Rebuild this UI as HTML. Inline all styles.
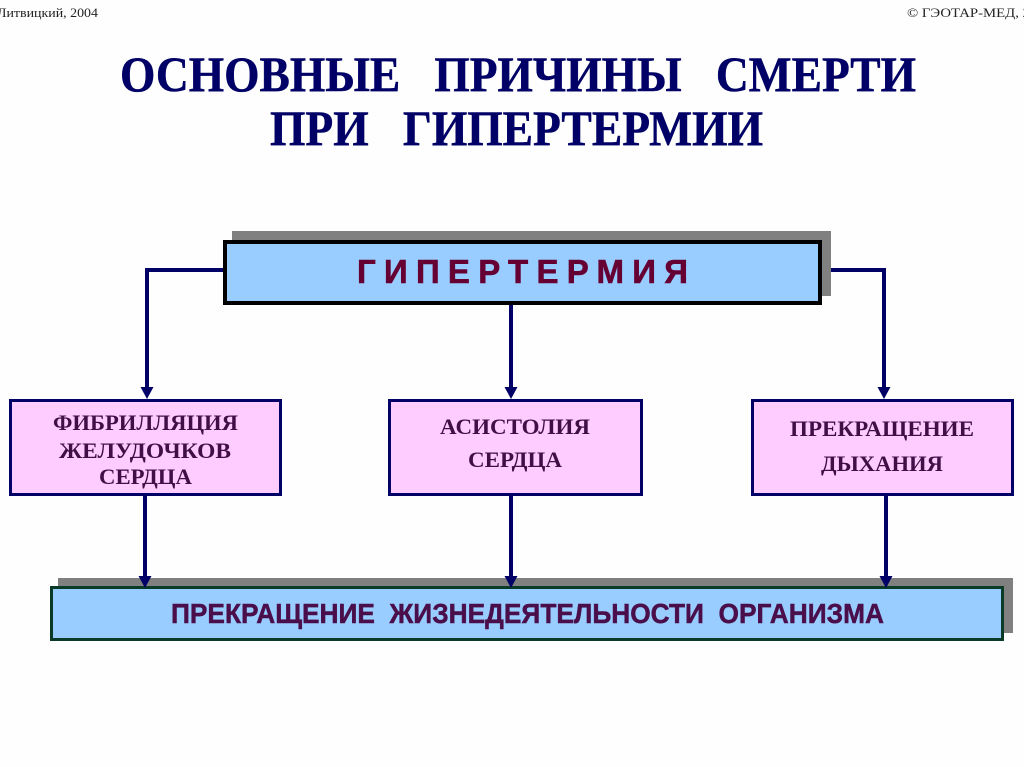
<!DOCTYPE html>
<html lang="ru">
<head>
<meta charset="utf-8">
<title>Основные причины смерти при гипертермии</title>
<style>
html,body{margin:0;padding:0;background:#fff;width:1024px;height:767px;overflow:hidden}
svg{display:block}
.serif{font-family:"Liberation Serif","Noto Serif CJK SC",serif}
.sans{font-family:"Liberation Sans","Noto Sans CJK SC",sans-serif;font-weight:bold}
.title{font-weight:bold;font-size:50px;fill:#000066;stroke:#000066;stroke-width:.5px}
.box{font-weight:bold;font-size:22px;fill:#3f0f46}
.small{font-size:13px;fill:#222}
</style>
</head>
<body>
<svg width="1024" height="767" viewBox="0 0 1024 767" xmlns="http://www.w3.org/2000/svg">
  <rect width="1024" height="767" fill="#fefefe"/>

  <text class="serif small" x="-3" y="17" textLength="101" lengthAdjust="spacingAndGlyphs">Литвицкий, 2004</text>
  <text class="serif small" x="907" y="17" textLength="123" lengthAdjust="spacingAndGlyphs">© ГЭОТАР-МЕД, 2</text>

  <g class="serif title">
    <text x="120" y="91" textLength="796" lengthAdjust="spacingAndGlyphs" xml:space="preserve">ОСНОВНЫЕ   ПРИЧИНЫ   СМЕРТИ</text>
    <text x="270" y="145" textLength="493" lengthAdjust="spacingAndGlyphs" xml:space="preserve">ПРИ   ГИПЕРТЕРМИИ</text>
  </g>

  <!-- connectors -->
  <g fill="none" stroke="#000066" stroke-width="4">
    <path d="M224 270H147V390"/>
    <path d="M511 304V390"/>
    <path d="M830 270H884V390"/>
    <path d="M145 495V578"/>
    <path d="M511 495V578"/>
    <path d="M886 495V578"/>
  </g>

  <!-- top box -->
  <rect x="232" y="231" width="599" height="65" fill="#808080"/>
  <rect x="225" y="242" width="595" height="61" fill="#99ccff" stroke="#000" stroke-width="4"/>
  <text class="sans" x="357" y="283" font-size="33" fill="#660033" stroke="#660033" stroke-width=".6" textLength="331" lengthAdjust="spacing">ГИПЕРТЕРМИЯ</text>

  <!-- pink boxes -->
  <g fill="#ffccff" stroke="#000066" stroke-width="3">
    <rect x="10.5" y="400.5" width="270" height="94"/>
    <rect x="389.5" y="400.5" width="252" height="94"/>
    <rect x="752.5" y="400.5" width="260" height="94"/>
  </g>
  <g class="serif box">
    <text x="53" y="430" textLength="185" lengthAdjust="spacingAndGlyphs">ФИБРИЛЛЯЦИЯ</text>
    <text x="59" y="458" textLength="172" lengthAdjust="spacingAndGlyphs">ЖЕЛУДОЧКОВ</text>
    <text x="99" y="484" textLength="93" lengthAdjust="spacingAndGlyphs">СЕРДЦА</text>
    <text x="440" y="434" textLength="150" lengthAdjust="spacingAndGlyphs">АСИСТОЛИЯ</text>
    <text x="468" y="467" textLength="94" lengthAdjust="spacingAndGlyphs">СЕРДЦА</text>
    <text x="790" y="436" textLength="184" lengthAdjust="spacingAndGlyphs">ПРЕКРАЩЕНИЕ</text>
    <text x="821" y="471" textLength="122" lengthAdjust="spacingAndGlyphs">ДЫХАНИЯ</text>
  </g>

  <!-- bottom box -->
  <rect x="58" y="578" width="955" height="55" fill="#808080"/>
  <rect x="51.5" y="587.5" width="951" height="52" fill="#99ccff" stroke="#0a3a28" stroke-width="3"/>
  <text class="sans" x="171" y="623" font-size="28" fill="#4a0f4a" stroke="#4a0f4a" stroke-width=".5" textLength="713" lengthAdjust="spacingAndGlyphs" xml:space="preserve">ПРЕКРАЩЕНИЕ  ЖИЗНЕДЕЯТЕЛЬНОСТИ  ОРГАНИЗМА</text>

  <!-- arrowheads -->
  <g fill="#000066">
    <path d="M140.5 387H153.5L147 399Z"/>
    <path d="M504.5 387H517.5L511 399Z"/>
    <path d="M877.5 387H890.5L884 399Z"/>
    <path d="M138.5 576H151.5L145 588Z"/>
    <path d="M504.5 576H517.5L511 588Z"/>
    <path d="M879.5 576H892.5L886 588Z"/>
  </g>
</svg>
</body>
</html>
